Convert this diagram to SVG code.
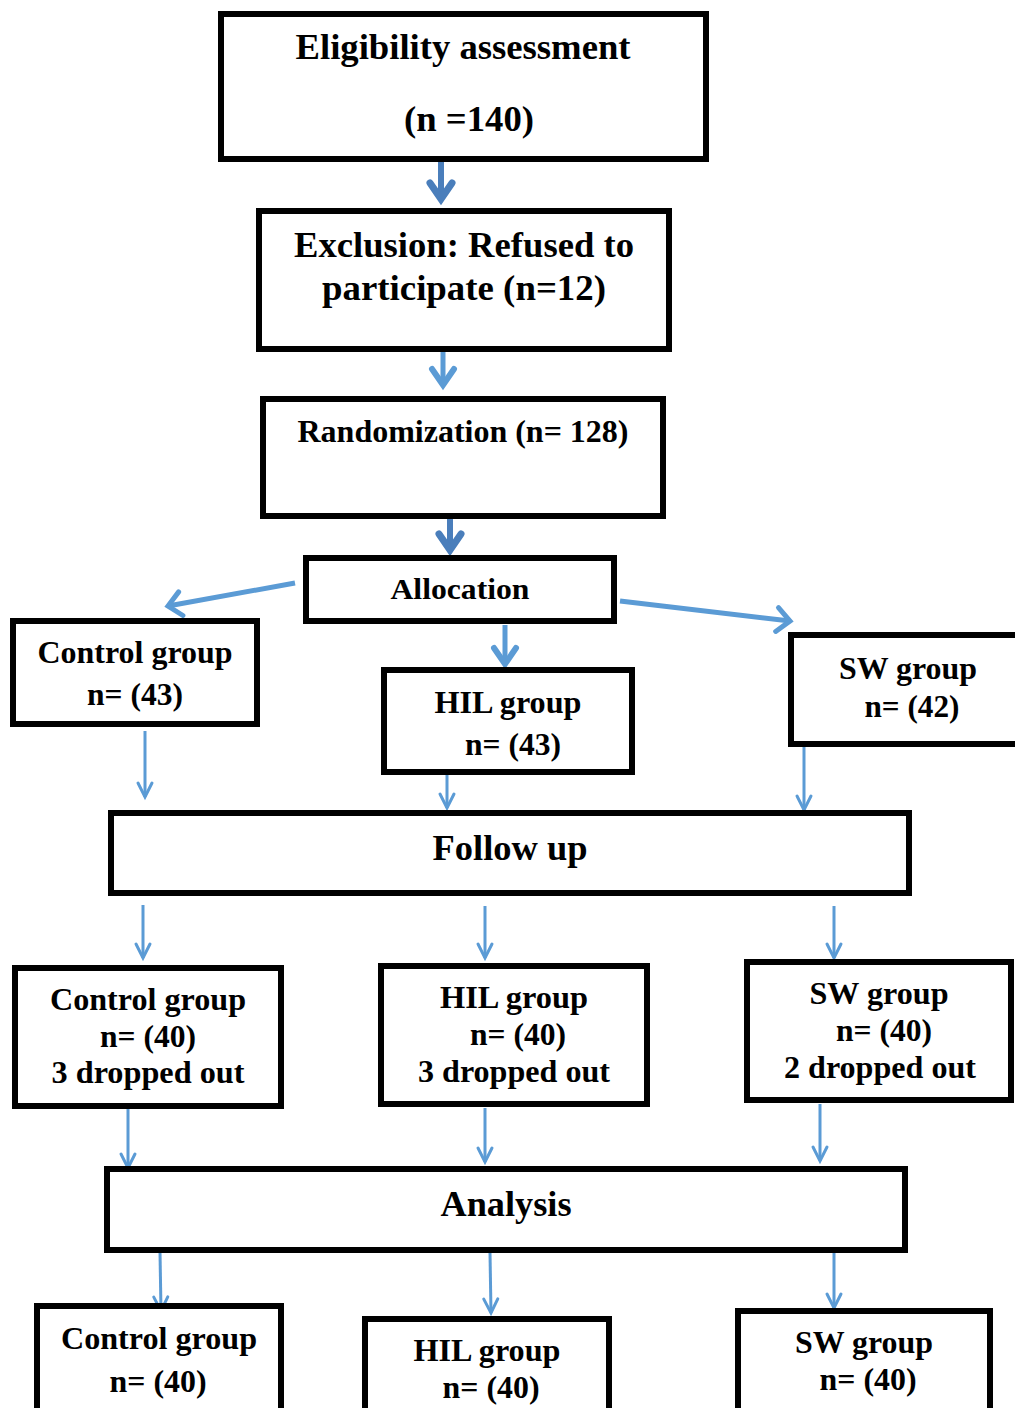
<svg xmlns="http://www.w3.org/2000/svg" width="1015" height="1408" viewBox="0 0 1015 1408">
<style>
.box{fill:#fff;stroke:#000;stroke-width:6}
.t{font-family:"Liberation Serif","Times New Roman",serif;font-weight:bold;fill:#000;text-anchor:middle}
.big{font-size:36px}
.mid{font-size:32px}
.dk{stroke:#4A7EBB;fill:none;stroke-width:6}
.lt{stroke:#5B9BD5;fill:none;stroke-width:5}
.th{stroke:#5B9BD5;fill:none;stroke-width:3}
</style>
<defs>
<marker id="hd" markerUnits="userSpaceOnUse" orient="auto" overflow="visible" refX="0" refY="0" markerWidth="1" markerHeight="1">
<path d="M-16,-11 L0,0 L-16,11" fill="none" stroke="#4A7EBB" stroke-width="7" stroke-linecap="round" stroke-linejoin="miter"/>
</marker>
<marker id="hl" markerUnits="userSpaceOnUse" orient="auto" overflow="visible" refX="0" refY="0" markerWidth="1" markerHeight="1">
<path d="M-16,-11 L0,0 L-16,11" fill="none" stroke="#5B9BD5" stroke-width="6" stroke-linecap="round" stroke-linejoin="miter"/>
</marker>
<marker id="hs" markerUnits="userSpaceOnUse" orient="auto" overflow="visible" refX="0" refY="0" markerWidth="1" markerHeight="1">
<path d="M-13,-12 L0,0 L-13,12" fill="none" stroke="#5B9BD5" stroke-width="5" stroke-linecap="round"/>
</marker>
<marker id="ht" markerUnits="userSpaceOnUse" orient="auto" overflow="visible" refX="0" refY="0" markerWidth="1" markerHeight="1">
<path d="M-14,-7 L0,0 L-14,7" fill="none" stroke="#5B9BD5" stroke-width="3" stroke-linecap="round"/>
</marker>
</defs>
<rect width="1015" height="1408" fill="#fff"/>

<g id="connectors">
<line class="dk" x1="441" y1="162" x2="441" y2="199" marker-end="url(#hd)"/>
<line class="lt" x1="443" y1="351" x2="443" y2="385" marker-end="url(#hl)"/>
<line class="dk" x1="450" y1="518" x2="450" y2="550" marker-end="url(#hd)"/>
<line class="lt" x1="295" y1="583" x2="168" y2="606" marker-end="url(#hs)"/>
<line class="lt" x1="620" y1="601" x2="790" y2="621" marker-end="url(#hs)"/>
<line class="lt" x1="505" y1="625" x2="505" y2="664" marker-end="url(#hl)"/>
<line class="th" x1="145" y1="731" x2="145" y2="797" marker-end="url(#ht)"/>
<line class="th" x1="447" y1="767" x2="447" y2="808" marker-end="url(#ht)"/>
<line class="th" x1="804" y1="746" x2="804" y2="810" marker-end="url(#ht)"/>
<line class="th" x1="143" y1="905" x2="143" y2="958" marker-end="url(#ht)"/>
<line class="th" x1="485" y1="906" x2="485" y2="958" marker-end="url(#ht)"/>
<line class="th" x1="834" y1="906" x2="834" y2="958" marker-end="url(#ht)"/>
<line class="th" x1="128" y1="1109" x2="128" y2="1168" marker-end="url(#ht)"/>
<line class="th" x1="485" y1="1108" x2="485" y2="1162" marker-end="url(#ht)"/>
<line class="th" x1="820" y1="1104" x2="820" y2="1161" marker-end="url(#ht)"/>
<line class="th" x1="160" y1="1252" x2="161" y2="1311" marker-end="url(#ht)"/>
<line class="th" x1="490" y1="1253" x2="491" y2="1313" marker-end="url(#ht)"/>
<line class="th" x1="834" y1="1252" x2="834" y2="1308" marker-end="url(#ht)"/>
</g>

<g id="eligibility">
<rect class="box" x="221" y="14" width="485" height="145"/>
<text class="t big" x="463" y="59" textLength="335" lengthAdjust="spacingAndGlyphs">Eligibility assessment</text>
<text class="t big" x="469" y="131" textLength="130" lengthAdjust="spacingAndGlyphs">(n =140)</text>
</g>
<g id="exclusion">
<rect class="box" x="259" y="211" width="410" height="138"/>
<text class="t big" x="464" y="257" textLength="340" lengthAdjust="spacingAndGlyphs">Exclusion: Refused to</text>
<text class="t big" x="464" y="300" textLength="284" lengthAdjust="spacingAndGlyphs">participate (n=12)</text>
</g>
<g id="randomization">
<rect class="box" x="263" y="399" width="400" height="117"/>
<text class="t mid" x="463" y="442" textLength="331" lengthAdjust="spacingAndGlyphs">Randomization (n= 128)</text>
</g>
<g id="allocation">
<rect class="box" x="306" y="558" width="308" height="63"/>
<text class="t" style="font-size:30px" x="460" y="599" textLength="139" lengthAdjust="spacingAndGlyphs">Allocation</text>
</g>
<g id="control1">
<rect class="box" x="13" y="621" width="244" height="103"/>
<text class="t mid" x="135" y="663" textLength="195" lengthAdjust="spacingAndGlyphs">Control group</text>
<text class="t mid" x="135" y="705" textLength="96" lengthAdjust="spacingAndGlyphs">n= (43)</text>
</g>
<g id="hil1">
<rect class="box" x="384" y="670" width="248" height="102"/>
<text class="t mid" x="508" y="713" textLength="147" lengthAdjust="spacingAndGlyphs">HIL group</text>
<text class="t mid" x="513" y="755" textLength="96" lengthAdjust="spacingAndGlyphs">n= (43)</text>
</g>
<g id="sw1">
<rect class="box" x="791" y="635" width="232" height="109"/>
<text class="t mid" x="908" y="679" textLength="138" lengthAdjust="spacingAndGlyphs">SW group</text>
<text class="t mid" x="912" y="717" textLength="95" lengthAdjust="spacingAndGlyphs">n= (42)</text>
</g>
<g id="followup">
<rect class="box" x="111" y="813" width="798" height="80"/>
<text class="t big" x="510" y="860" textLength="155" lengthAdjust="spacingAndGlyphs">Follow up</text>
</g>
<g id="control2">
<rect class="box" x="15" y="968" width="266" height="138"/>
<text class="t mid" x="148" y="1010" textLength="196" lengthAdjust="spacingAndGlyphs">Control group</text>
<text class="t mid" x="148" y="1047" textLength="96" lengthAdjust="spacingAndGlyphs">n= (40)</text>
<text class="t mid" x="148" y="1083" textLength="193" lengthAdjust="spacingAndGlyphs">3 dropped out</text>
</g>
<g id="hil2">
<rect class="box" x="381" y="966" width="266" height="138"/>
<text class="t mid" x="514" y="1008" textLength="148" lengthAdjust="spacingAndGlyphs">HIL group</text>
<text class="t mid" x="518" y="1045" textLength="96" lengthAdjust="spacingAndGlyphs">n= (40)</text>
<text class="t mid" x="514" y="1082" textLength="192" lengthAdjust="spacingAndGlyphs">3 dropped out</text>
</g>
<g id="sw2">
<rect class="box" x="747" y="962" width="264" height="138"/>
<text class="t mid" x="879" y="1004" textLength="139" lengthAdjust="spacingAndGlyphs">SW group</text>
<text class="t mid" x="884" y="1041" textLength="96" lengthAdjust="spacingAndGlyphs">n= (40)</text>
<text class="t mid" x="880" y="1078" textLength="192" lengthAdjust="spacingAndGlyphs">2 dropped out</text>
</g>
<g id="analysis">
<rect class="box" x="107" y="1169" width="798" height="81"/>
<text class="t big" x="506" y="1216" textLength="131" lengthAdjust="spacingAndGlyphs">Analysis</text>
</g>
<g id="control3">
<rect class="box" x="37" y="1306" width="244" height="110"/>
<text class="t mid" x="159" y="1349" textLength="196" lengthAdjust="spacingAndGlyphs">Control group</text>
<text class="t mid" x="158" y="1392" textLength="97" lengthAdjust="spacingAndGlyphs">n= (40)</text>
</g>
<g id="hil3">
<rect class="box" x="365" y="1319" width="244" height="100"/>
<text class="t mid" x="487" y="1361" textLength="147" lengthAdjust="spacingAndGlyphs">HIL group</text>
<text class="t mid" x="491" y="1398" textLength="97" lengthAdjust="spacingAndGlyphs">n= (40)</text>
</g>
<g id="sw3">
<rect class="box" x="738" y="1311" width="252" height="105"/>
<text class="t mid" x="864" y="1353" textLength="138" lengthAdjust="spacingAndGlyphs">SW group</text>
<text class="t mid" x="868" y="1390" textLength="97" lengthAdjust="spacingAndGlyphs">n= (40)</text>
</g>
</svg>
